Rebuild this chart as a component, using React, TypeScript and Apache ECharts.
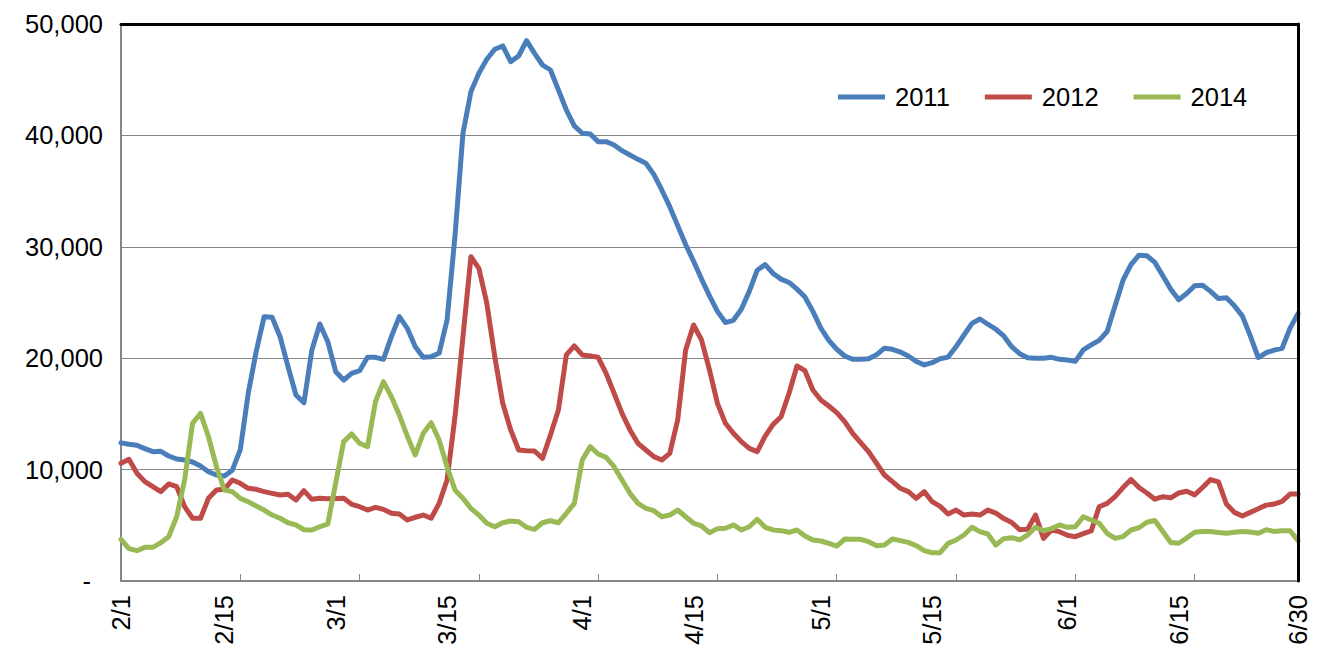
import React, { useEffect, useRef } from "react";
import * as echarts from "echarts";

// Category dates (one early-February day is absent from the source data)
const MONTHS = [2, 3, 4, 5, 6];
const MONTH_LENGTHS = [28, 31, 30, 31, 30];
const MISSING_DATE = "2/7";
const CATEGORIES: string[] = [];
MONTHS.forEach((m, k) => {
  for (let d = 1; d <= MONTH_LENGTHS[k]; d++) {
    const s = `${m}/${d}`;
    if (s !== MISSING_DATE) CATEGORIES.push(s);
  }
});

const TICK_LABELS = ["2/1", "2/15", "3/1", "3/15", "4/1", "4/15", "5/1", "5/15", "6/1", "6/15", "6/30"];

const SERIES_NAMES = ["2011", "2012", "2014"];

const S2011 = [
  12400, 12270, 12180, 11880, 11610, 11640, 11220, 10950, 10860, 10680,
  10320, 9810, 9520, 9430, 9950, 11800, 16850, 20600, 23730, 23670,
  21930, 19240, 16700, 16000, 20740, 23070, 21480, 18790, 18040, 18640,
  18880, 20080, 20080, 19900, 21930, 23730, 22680, 21030, 20080, 20140,
  20440, 23430, 31000, 40190, 43930, 45580, 46830, 47730, 48030, 46620,
  47130, 48500, 47370, 46320, 45870, 44080, 42280, 40850, 40190, 40130,
  39440, 39440, 39140, 38630, 38240, 37850, 37500, 36500, 35100, 33600,
  31900, 30200, 28700, 27100, 25600, 24200, 23200, 23400, 24400, 26000,
  27900, 28400, 27600, 27100, 26800, 26200, 25500, 24200, 22700, 21600,
  20800, 20200, 19900, 19900, 19950, 20300, 20900, 20800, 20550, 20200,
  19700, 19400, 19600, 19950, 20100, 21030, 22080, 23130, 23520, 23050,
  22600, 22000, 21030, 20400, 20050, 19990, 20000, 20080, 19900, 19840,
  19720, 20740, 21190, 21600, 22400, 24700, 27000, 28400, 29250, 29200,
  28600, 27400, 26200, 25250, 25800, 26500, 26550, 26000, 25350, 25420,
  24700, 23800, 22000, 20060, 20490, 20720, 20890, 22700, 24000,
];

const S2012 = [
  10570, 10920, 9670, 8920, 8470, 8020, 8710, 8470, 6670, 5630,
  5630, 7420, 8170, 8230, 9070, 8770, 8320, 8230, 8020, 7870,
  7720, 7780, 7270, 8110, 7330, 7420, 7380, 7400, 7420, 6880,
  6670, 6370, 6610, 6430, 6080, 6010, 5480, 5720, 5920, 5630,
  6970, 9070, 14750, 21930, 29110, 28070, 24930, 20140, 15950, 13560,
  11760, 11700, 11670, 11010, 13110, 15350, 20290, 21100, 20290, 20200,
  20080, 18640, 16850, 15050, 13560, 12360, 11760, 11160, 10860, 11460,
  14450, 20740, 22980, 21630, 18940, 15950, 14160, 13260, 12510, 11910,
  11610, 13000, 14060, 14750, 16850, 19300, 18880, 17150, 16250, 15710,
  15110, 14300, 13260, 12420, 11610, 10570, 9515, 8920, 8320, 8020,
  7420, 8020, 7120, 6700, 6010, 6370, 5920, 6010, 5920, 6370,
  6100, 5600, 5250, 4600, 4640, 5920, 3830, 4580, 4430, 4100,
  3980, 4250, 4490, 6670, 6970, 7570, 8390, 9110, 8390, 7900,
  7340, 7570, 7470, 7900, 8060, 7730, 8390, 9110, 8890, 6910,
  6160, 5830, 6160, 6480, 6810, 6910, 7150, 7800, 7800,
];

const S2014 = [
  3740, 2900, 2720, 3020, 3020, 3440, 3980, 5770, 9070, 14160,
  15050, 12950, 10260, 8170, 8020, 7420, 7120, 6730, 6370, 5920,
  5630, 5230, 5030, 4600, 4580, 4870, 5120, 8800, 12510, 13200,
  12360, 12060, 16100, 17890, 16550, 14900, 13000, 11310, 13260, 14210,
  12660, 10260, 8170, 7420, 6520, 5920, 5180, 4870, 5230, 5390,
  5320, 4820, 4640, 5230, 5410, 5230, 6080, 6970, 10860, 12060,
  11400, 11100, 10260, 9070, 7870, 6970, 6520, 6310, 5770, 5920,
  6370, 5770, 5180, 4940, 4340, 4700, 4730, 5030, 4580, 4870,
  5540, 4820, 4580, 4520, 4370, 4580, 4040, 3680, 3590, 3380,
  3140, 3770, 3740, 3740, 3530, 3170, 3230, 3770, 3620, 3470,
  3170, 2720, 2540, 2540, 3380, 3680, 4130, 4820, 4430, 4220,
  3230, 3800, 3890, 3700, 4130, 4820, 4520, 4700, 5030, 4820,
  4870, 5770, 5480, 5180, 4280, 3830, 3980, 4580, 4780, 5270,
  5430, 4440, 3460, 3390, 3850, 4380, 4440, 4440, 4350, 4280,
  4380, 4440, 4400, 4280, 4610, 4440, 4510, 4510, 3630,
];

const Y_MIN = 0;
const Y_MAX = 50000;
const Y_STEP = 10000;

const COLORS = ["#4A7EBB", "#BE4B48", "#98B954"];
const FONT = "'Liberation Sans', Arial, sans-serif";

export default function App() {
  const ref = useRef<HTMLDivElement>(null);

  useEffect(() => {
    if (!ref.current) return;
    const chart = echarts.init(ref.current, undefined, { renderer: "svg" });
    const labelSet = new Set(TICK_LABELS);
    const values = [S2011, S2012, S2014];

    chart.setOption({
      animation: false,
      backgroundColor: "#ffffff",
      color: COLORS,
      grid: {
        left: 121,
        right: 22,
        top: 24,
        bottom: 73,
        containLabel: false,
        outerBoundsMode: "none",
        show: false,
      },
      legend: {
        left: 833,
        top: 77,
        icon: "rect",
        itemWidth: 47,
        itemHeight: 5,
        itemGap: 35,
        data: SERIES_NAMES,
        textStyle: {
          fontFamily: FONT,
          fontSize: 25.5,
          color: "#000",
          lineHeight: 30,
          padding: [0, 0, 0, 5],
        },
      },
      xAxis: [
        {
          type: "category",
          data: CATEGORIES,
          boundaryGap: false,
          axisLine: { show: true, lineStyle: { color: "#868686", width: 2 } },
          axisTick: {
            show: true,
            inside: true,
            length: 7,
            interval: 14,
            lineStyle: { color: "#868686", width: 1 },
          },
          axisLabel: {
            show: true,
            rotate: 90,
            margin: 14,
            interval: (_i: number, v: string) => labelSet.has(v),
            fontFamily: FONT,
            fontSize: 25.5,
            color: "#000",
          },
          splitLine: { show: false },
        },
        {
          type: "value",
          position: "top",
          min: 0,
          max: 1,
          z: 10,
          axisLine: { show: true, onZero: false, lineStyle: { color: "#000", width: 3 } },
          axisTick: { show: false },
          axisLabel: { show: false },
          splitLine: { show: false },
        },
      ],
      yAxis: [
        {
          type: "value",
          min: Y_MIN,
          max: Y_MAX,
          interval: Y_STEP,
          axisLine: { show: true, lineStyle: { color: "#868686", width: 2 } },
          axisTick: { show: false },
          axisLabel: {
            margin: 18,
            fontFamily: FONT,
            fontSize: 25.5,
            color: "#000",
            formatter: (v: number) => (v === 0 ? "{z|-}" : v.toLocaleString("en-US")),
            rich: {
              z: { fontFamily: FONT, fontSize: 25.5, color: "#000", padding: [0, 12, 0, 0] },
            },
          },
          splitLine: { show: true, lineStyle: { color: "#868686", width: 1 } },
        },
        {
          type: "value",
          position: "right",
          min: 0,
          max: 1,
          z: 10,
          axisLine: { show: true, onZero: false, lineStyle: { color: "#000", width: 3 } },
          axisTick: { show: false },
          axisLabel: { show: false },
          splitLine: { show: false },
        },
      ],
      series: SERIES_NAMES.map((name, k) => ({
        name,
        type: "line",
        xAxisIndex: 0,
        yAxisIndex: 0,
        data: values[k],
        showSymbol: false,
        symbol: "none",
        lineStyle: { width: 5, color: COLORS[k], cap: "round", join: "round" },
        itemStyle: { color: COLORS[k] },
      })),
    });

    return () => chart.dispose();
  }, []);

  return (
    <div
      ref={ref}
      style={{ position: "fixed", left: 0, top: 0, width: 1320, height: 654, background: "#fff" }}
    />
  );
}
